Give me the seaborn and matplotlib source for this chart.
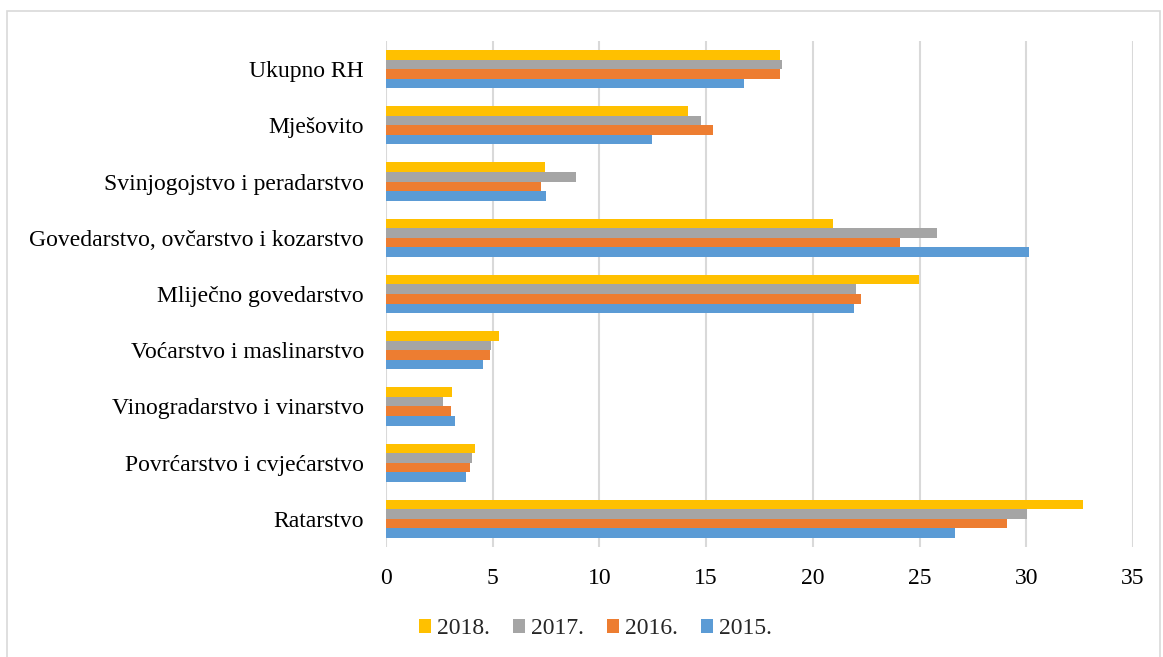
#!/usr/bin/env python
"""
  Horizontal grouped bar chart by farm type and year
"""

import matplotlib

matplotlib.use("Agg")
import matplotlib.pyplot as plt
from matplotlib.patches import Rectangle
import seaborn as sns
import pandas as pd

CATEGORIES = [
    "Ukupno RH",
    "Mješovito",
    "Svinjogojstvo i peradarstvo",
    "Govedarstvo, ovčarstvo i kozarstvo",
    "Mliječno govedarstvo",
    "Voćarstvo i maslinarstvo",
    "Vinogradarstvo i vinarstvo",
    "Povrćarstvo i cvjećarstvo",
    "Ratarstvo",
]
YEARS = ["2018.", "2017.", "2016.", "2015."]
V2018 = [18.47, 14.17, 7.45, 20.93, 24.99, 5.30, 3.08, 4.15, 32.68]
V2017 = [18.56, 14.77, 8.89, 25.83, 22.04, 4.94, 2.65, 4.01, 30.05]
V2016 = [18.44, 15.34, 7.27, 24.07, 22.25, 4.89, 3.05, 3.92, 29.11]
V2015 = [16.78, 12.44, 7.52, 30.14, 21.94, 4.53, 3.22, 3.73, 26.66]
COLORS = ["#FFC000", "#A5A5A5", "#ED7D31", "#5B9BD5"]
FS = 17


def main():
    sns.set_theme(style="white")
    plt.rcParams["font.family"] = ["Liberation Serif", "DejaVu Serif"]

    rows = []
    for year, vals in zip(YEARS, [V2018, V2017, V2016, V2015]):
        for cat, v in zip(CATEGORIES, vals):
            rows.append({"cat": cat, "year": year, "value": v})
    frame = pd.DataFrame(rows)

    fig = plt.figure(figsize=(11.63, 6.57), dpi=100)
    ax = fig.add_axes([0.3319, 0.1674, 0.9742 - 0.3319, 0.9376 - 0.1674])
    sns.barplot(
        data=frame, y="cat", x="value", hue="year", order=CATEGORIES,
        hue_order=YEARS, palette=COLORS, orient="h", width=0.68, gap=0,
        linewidth=0, saturation=1, ax=ax, legend=True,
    )

    ax.set_xlim(0, 35)
    ax.set_xticks(range(0, 36, 5))
    ax.grid(axis="x", color="#D9D9D9", linewidth=1.5)
    ax.set_axisbelow(True)
    for s in ax.spines.values():
        s.set_visible(False)
    ax.set(xlabel="", ylabel="")
    ax.tick_params(axis="both", length=0, labelsize=FS, colors="black")
    ax.tick_params(axis="x", pad=15)
    ax.tick_params(axis="y", pad=16)

    handles, labels = ax.get_legend_handles_labels()
    ax.legend_.remove()
    fig.legend(
        handles, labels, loc="center", bbox_to_anchor=(0.512, 0.043), ncol=4,
        frameon=False, fontsize=FS, handlelength=0.5, handleheight=0.5,
        columnspacing=1.0, handletextpad=0.25,
    )

    fig.patches.append(Rectangle(
        (7 / 1163, -5 / 657), 1153 / 1163, 651 / 657, transform=fig.transFigure,
        fill=False, edgecolor="#D9D9D9", linewidth=1.2,
    ))
    fig.savefig("out.png", dpi=100)


if __name__ == "__main__":
    main()
